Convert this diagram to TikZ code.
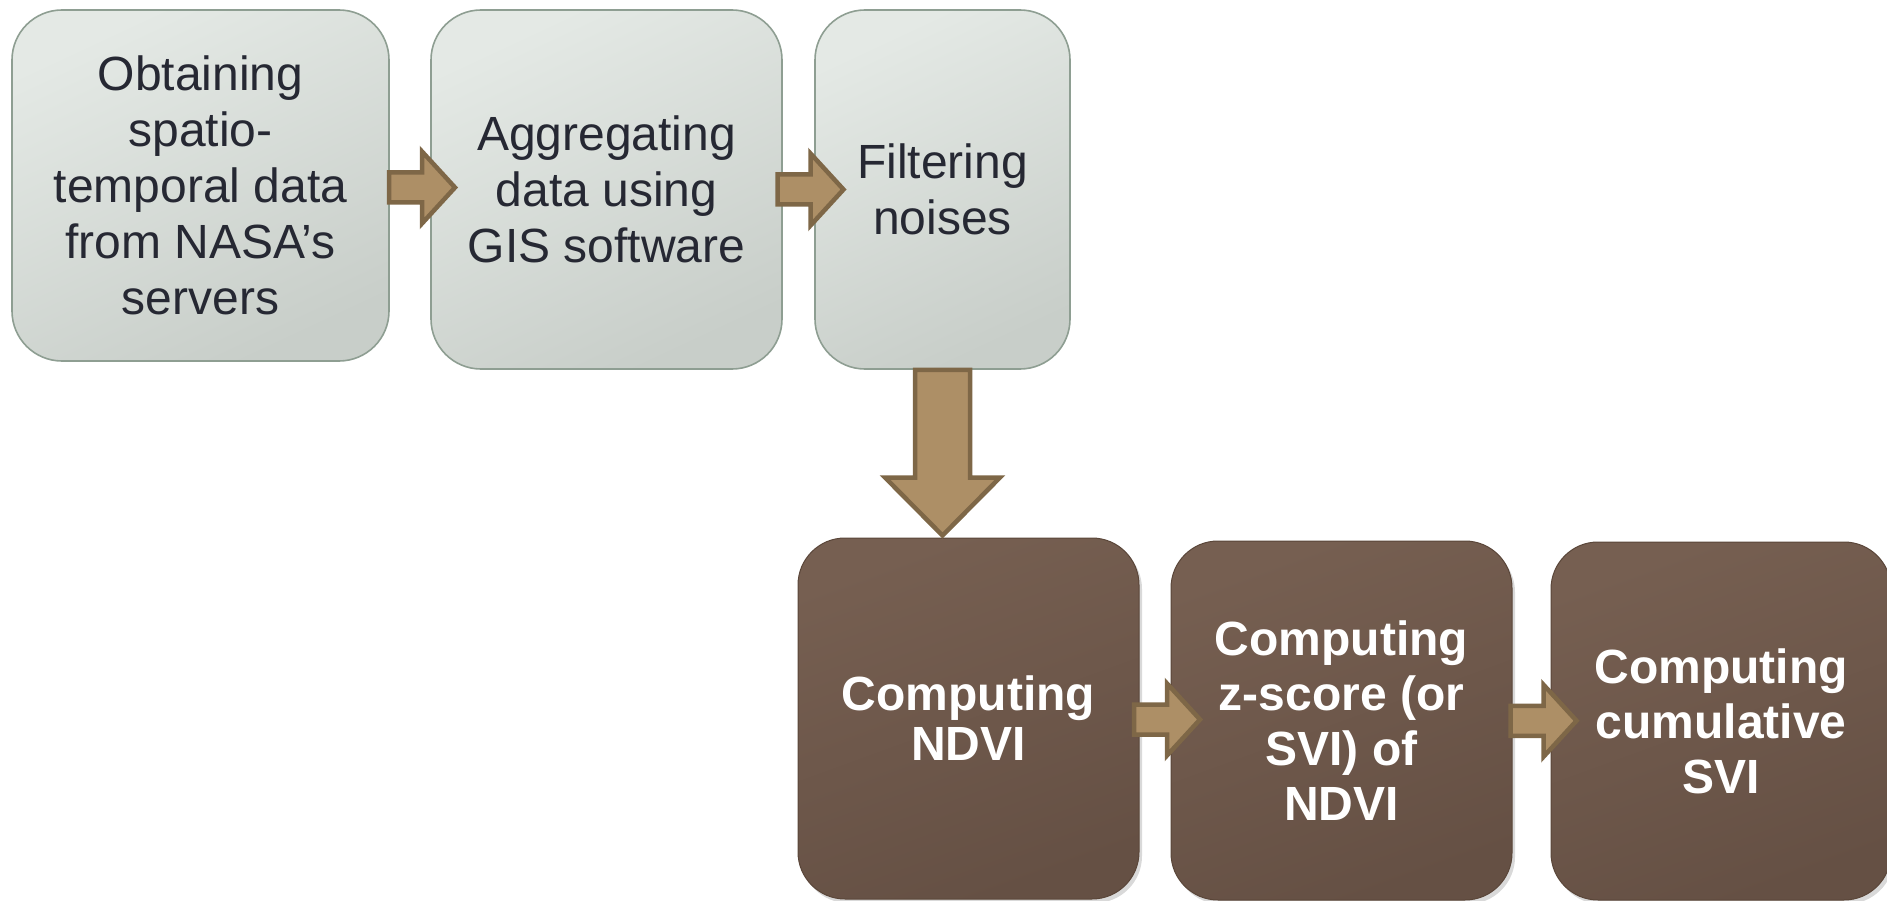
\documentclass[tikz,border=0pt]{standalone}
\usepackage{fontspec}
\setmainfont{Liberation Sans}
\usetikzlibrary{calc, shadows}
\definecolor{claroarriba}{HTML}{E4E9E5}
\definecolor{claroabajo}{HTML}{C8CEC9}
\definecolor{bordeclaro}{HTML}{8E9E92}
\definecolor{textooscuro}{HTML}{262833}
\definecolor{oscuroarriba}{HTML}{765F51}
\definecolor{oscuroabajo}{HTML}{655044}
\definecolor{bordeoscuro}{HTML}{5A4639}
\definecolor{flecharelleno}{HTML}{AD8F66}
\definecolor{flechaborde}{HTML}{7E6747}
\tikzset{
  texto/.style       = {align=center, font={\fontsize{48}{56}\selectfont}},
  cajaclara/.style   = {texto, draw=bordeclaro, line width=1.6pt, rounded corners=50pt,
                        top color=claroarriba, bottom color=claroabajo, shading angle=25,
                        text=textooscuro},
  cajaoscura/.style  = {texto, draw=bordeoscuro, line width=1pt, rounded corners=47pt,
                        top color=oscuroarriba, bottom color=oscuroabajo, shading angle=20,
                        text=white, font={\fontsize{48}{55}\selectfont\bfseries},
                        drop shadow={shadow xshift=3pt, shadow yshift=-4pt, opacity=0.3}},
  flechabloque/.style = {fill=flecharelleno, draw=flechaborde, line width=4.5pt, line join=miter}
}

\begin{document}
\begin{tikzpicture}[x=1pt, y=-1pt]
  \useasboundingbox (0,0) rectangle (1887,901);

  % upper row
  \node[cajaclara, minimum width=377pt, minimum height=351pt] (obtener) at (200.5,185.5)
    {Obtaining\\spatio-\\temporal data\\from NASA’s\\servers};
  \node[cajaclara, minimum width=351pt, minimum height=359pt] (agregar) at (606.5,189.5)
    {Aggregating\\data using\\GIS software};
  \node[cajaclara, minimum width=255pt, minimum height=359pt] (filtrar) at (942.5,189.5)
    {Filtering\\noises};

  % lower row
  \node[cajaoscura, minimum width=341pt, minimum height=361pt,
        font={\fontsize{48}{50}\selectfont\bfseries}] (ndvi) at (968.5,718.5)
    {Computing\\NDVI};
  \node[cajaoscura, minimum width=341pt, minimum height=359pt] (zscore) at (1341.5,720.5)
    {Computing\\z-score (or\\SVI) of\\NDVI};
  \node[cajaoscura, minimum width=340pt, minimum height=358pt] (acumulado) at (1721,721)
    {Computing\\cumulative\\SVI};

  % block arrows between neighbours
  \foreach \a/\b in {obtener/agregar, agregar/filtrar, ndvi/zscore, zscore/acumulado}{
    \coordinate (m) at ($(\a.east)!0.5!(\b.west)$);
    \draw[flechabloque] ($(m)+(-21,-15)$) -- ++(33,0) -- ++(0,-21) -- ++(33,36)
      -- ++(-33,36) -- ++(0,-21) -- ++(-33,0) -- cycle;
  }

  % down arrow
  \draw[flechabloque] ($(filtrar.south)+(-27.5,0)$) -- ($(filtrar.south |- ndvi.north)+(-27.5,-60)$)
    -- ++(-30,0) -- ($(filtrar.south |- ndvi.north)+(0,-2)$) -- ($(filtrar.south |- ndvi.north)+(57.5,-60)$)
    -- ++(-30,0) -- ($(filtrar.south)+(27.5,0)$) -- cycle;
\end{tikzpicture}
\end{document}
